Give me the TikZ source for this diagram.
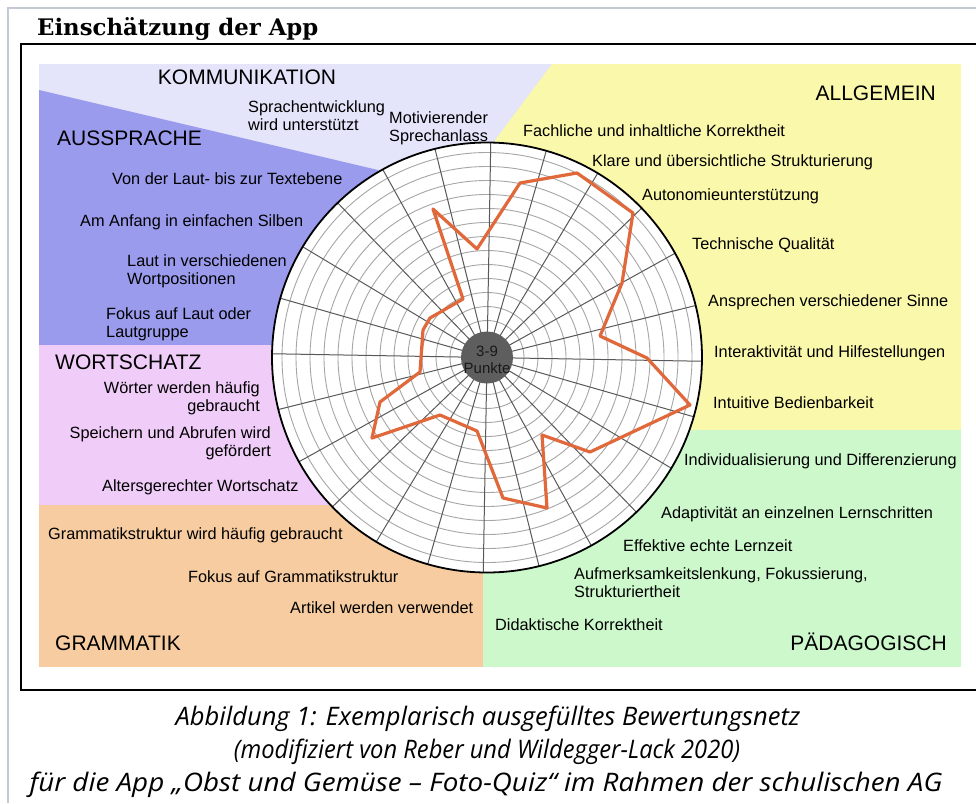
\documentclass[tikz,border=0pt]{standalone}
\usepackage{fontspec}
\setmainfont{Liberation Sans}
\newfontfamily\titlefont{DejaVu Serif}
\newfontfamily\capfont{Open Sans}
\usepackage{tikz}
\definecolor{komm}{HTML}{E4E4FA}
\definecolor{ausspr}{HTML}{9B9BEE}
\definecolor{wort}{HTML}{F0CCF8}
\definecolor{gramm}{HTML}{F7CCA0}
\definecolor{paed}{HTML}{CCF8CC}
\definecolor{allg}{HTML}{FAF8AA}
\definecolor{netzlinie}{HTML}{E0683A}
\definecolor{rahmen}{HTML}{C3CAD6}
\definecolor{mitte}{HTML}{5E5E5E}

\begin{document}
\begin{tikzpicture}[x=1pt,y=-1pt,
    lbl/.style={inner sep=0pt,font=\fontsize{16.3}{18.5}\selectfont},
    head/.style={inner sep=0pt,font=\fontsize{21}{25}\selectfont},
    capline/.style={inner sep=0pt,anchor=base,transform shape,font=\capfont\itshape\fontsize{25.5}{33}\selectfont},
    ring/.style={draw=black!35,line width=0.9pt},
    spoke/.style={draw=black!65,line width=1pt}]
  \useasboundingbox (0,0) rectangle (976,803);
  \fill[white] (0,0) rectangle (976,803);
  \draw[rahmen,line width=2.5pt] (8,803) -- (8,8) -- (976,8);
  \draw[line width=1.8pt] (976,44) -- (21,44) -- (21,690) -- (976,690);
  \draw (37,35.5) node[anchor=base west,inner sep=0pt,font=\titlefont\bfseries\fontsize{22.8}{26}\selectfont] (titel) {Einschätzung der App};

  % farbige Felder
  \fill[komm] (39,64) rectangle (961,667);
  \fill[allg] (552,64) -- (961,64) -- (961,430) -- (487,430) -- (487,357) -- (495,140) -- cycle;
  \fill[ausspr] (39,90) -- (378,170) -- (487,357) -- (487,345) -- (39,345) -- cycle;
  \fill[wort] (39,345) rectangle (487,505);
  \fill[gramm] (39,505) rectangle (483,667);
  \fill[paed] (483,430) rectangle (961,667);

  % Netz
  \begin{scope}[shift={(487,357.5)},yscale=-1]
    \fill[white] (0,0) circle (215);
    \foreach \k in {1,...,13}
      \draw[ring] (0,0) circle ({23+14*\k});
    \foreach \a in {0,...,23}
      \draw[spoke] (0,0) -- ({89+15*\a}:215);
    \draw[line width=1.8pt] (0,0) circle (215);
  \end{scope}
  \draw[netzlinie,line width=3.2pt,line join=round]
    (433,209) -- (477,249) -- (520,183) -- (577,173) -- (633,213) -- (622,283)
    -- (600,336) -- (647,358) -- (690,405) -- (590,452) -- (542,435) -- (547,508)
    -- (503,498) -- (477,431) -- (440,415) -- (372,438) -- (380,402) -- (420,372)
    -- (423,330) -- (430,318) -- (463,299) -- cycle;
  \fill[mitte] (487,357.5) circle (26);
  \draw (487,360) node[inner sep=0pt,align=center,text=black!90,font=\fontsize{15}{16.5}\selectfont] (punkte) {3-9\\Punkte};

  % Bereiche
  \draw (247,84.5) node[head,anchor=base] (kommunikation) {KOMMUNIKATION};
  \draw (936,100.5) node[head,anchor=base east] (allgemein) {ALLGEMEIN};
  \draw (57,145.5) node[head,anchor=base west] (aussprache) {AUSSPRACHE};
  \draw (55,369.5) node[head,anchor=base west] (wortschatz) {WORTSCHATZ};
  \draw (55,650.5) node[head,anchor=base west] (grammatik) {GRAMMATIK};
  \draw (947,650.5) node[head,anchor=base east] (paedagogisch) {PÄDAGOGISCH};

  % Kriterien
  \draw (248,100) node[lbl,anchor=north west,align=left] (sprachentw) {Sprachentwicklung\\wird unterstützt};
  \draw (389,111) node[lbl,anchor=north west,align=left] (anlass) {Motivierender\\Sprechanlass};
  \draw (523,136) node[lbl,anchor=base west] (fachlich) {Fachliche und inhaltliche Korrektheit};
  \draw (592,166) node[lbl,anchor=base west] (klar) {Klare und übersichtliche Strukturierung};
  \draw (642,200) node[lbl,anchor=base west] (autonomie) {Autonomieunterstützung};
  \draw (692,249) node[lbl,anchor=base west] (technik) {Technische Qualität};
  \draw (708,306) node[lbl,anchor=base west] (sinne) {Ansprechen verschiedener Sinne};
  \draw (714,357) node[lbl,anchor=base west] (interakt) {Interaktivität und Hilfestellungen};
  \draw (713,408) node[lbl,anchor=base west] (intuitiv) {Intuitive Bedienbarkeit};
  \draw (684,465) node[lbl,anchor=base west] (individ) {Individualisierung und Differenzierung};
  \draw (661,518) node[lbl,anchor=base west] (adapt) {Adaptivität an einzelnen Lernschritten};
  \draw (623,551) node[lbl,anchor=base west] (lernzeit) {Effektive echte Lernzeit};
  \draw (574,567) node[lbl,anchor=north west,align=left] (aufmerk) {Aufmerksamkeitslenkung, Fokussierung,\\Strukturiertheit};
  \draw (495,630) node[lbl,anchor=base west] (didakt) {Didaktische Korrektheit};
  \draw (112,184) node[lbl,anchor=base west] (textebene) {Von der Laut- bis zur Textebene};
  \draw (80,226) node[lbl,anchor=base west] (silben) {Am Anfang in einfachen Silben};
  \draw (127,254) node[lbl,anchor=north west,align=left] (wortpos) {Laut in verschiedenen\\Wortpositionen};
  \draw (106,307) node[lbl,anchor=north west,align=left] (lautgr) {Fokus auf Laut oder\\Lautgruppe};
  \draw (260,381) node[lbl,anchor=north east,align=right] (haeufig) {Wörter werden häufig\\gebraucht};
  \draw (271,426) node[lbl,anchor=north east,align=right] (abrufen) {Speichern und Abrufen wird\\gefördert};
  \draw (102,491) node[lbl,anchor=base west] (alters) {Altersgerechter Wortschatz};
  \draw (48,539) node[lbl,anchor=base west] (grstrukt) {Grammatikstruktur wird häufig gebraucht};
  \draw (188,582) node[lbl,anchor=base west] (grfokus) {Fokus auf Grammatikstruktur};
  \draw (290,613) node[lbl,anchor=base west] (artikel) {Artikel werden verwendet};

  % Unterschrift
  \draw (488,725) node[capline] (cap1) {Abbildung 1: Exemplarisch ausgefülltes Bewertungsnetz};
  \draw (487,758) node[capline,xscale=0.93] (cap2) {(modifiziert von Reber und Wildegger-Lack 2020)};
  \draw (486,791) node[capline,xscale=1.09] (cap3) {für die App „Obst und Gemüse – Foto-Quiz“ im Rahmen der schulischen AG};
\end{tikzpicture}
\end{document}
